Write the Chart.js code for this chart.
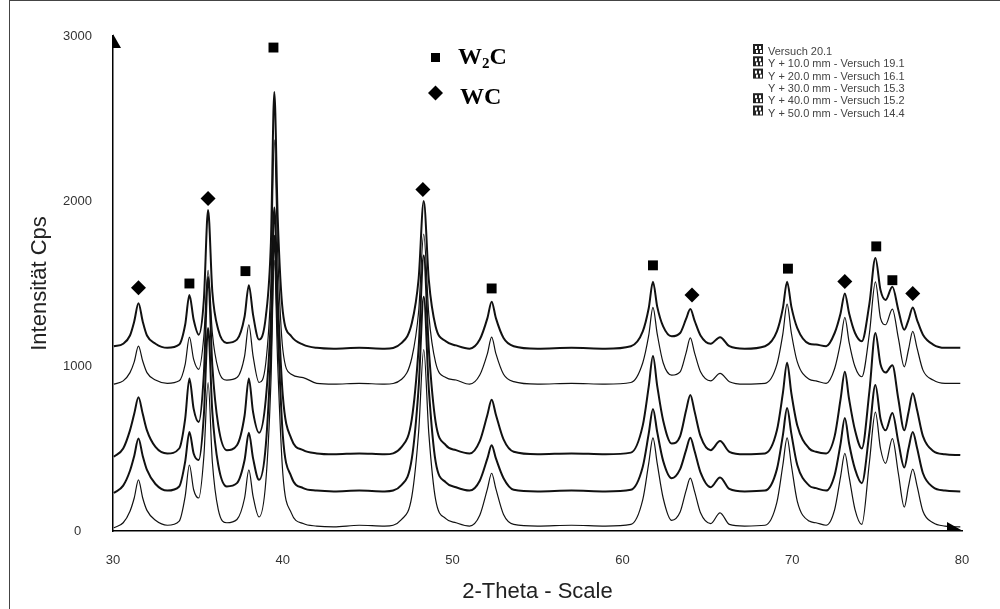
<!DOCTYPE html>
<html>
<head>
<meta charset="utf-8">
<script src="https://cdn.jsdelivr.net/npm/chart.js@4.4.1/dist/chart.umd.min.js"></script>
<style>
  html, body { margin: 0; padding: 0; background: #fff; }
  #wrap { position: relative; width: 1000px; height: 609px; }
  #frame { position: absolute; left: 9px; top: 0; width: 990px; height: 608px;
           border-left: 1px solid #444; border-top: 1px solid #444; pointer-events: none; }
</style>
</head>
<body>
<div id="wrap">
  <canvas id="xrd" width="1000" height="609"></canvas>
  <div id="frame"></div>
</div>
<script>
// 2-theta positions shared by all patterns
const twoTheta = [
  30.05, 30.6, 31.0, 31.25, 31.5, 31.75, 32.0, 32.5, 33.2, 33.9,
  34.25, 34.5, 34.75, 35.05, 35.35, 35.6, 35.85, 36.2, 36.7, 37.3,
  37.75, 38.0, 38.25, 38.6, 39.0, 39.3, 39.5, 39.7, 40.0, 40.5,
  41.2, 42.0, 43.0, 44.5, 46.0, 47.0, 47.6, 48.0, 48.3, 48.6,
  49.0, 49.6, 50.2, 51.0, 51.6, 52.05, 52.3, 52.55, 53.0, 53.6,
  55.0, 57.0, 59.0, 60.5, 61.2, 61.55, 61.8, 62.05, 62.4, 62.9,
  63.4, 63.75, 64.0, 64.25, 64.6, 65.2, 65.75, 66.3, 67.2, 68.4,
  69.1, 69.45, 69.7, 69.95, 70.3, 71.0, 71.4, 72.0, 72.5, 72.85,
  73.1, 73.35, 73.7, 74.1, 74.55, 74.9, 75.2, 75.5, 75.9, 76.25,
  76.6, 76.85, 77.1, 77.35, 77.7, 78.3, 79.0, 79.9
];

// intensities (Cps), already shifted by the Y offset of each run
const versuch201 = [
  20, 50, 120, 200, 310, 200, 125, 65, 35, 60,
  210, 400, 250, 200, 450, 900, 420, 130, 50, 70,
  200, 370, 210, 85, 300, 900, 1640, 1010, 350, 110,
  45, 30, 25, 35, 30, 70, 210, 600, 1100, 590,
  190, 75, 50, 30, 95, 255, 350, 255, 100, 40,
  30, 35, 30, 40, 190, 410, 565, 410, 200, 65,
  115, 245, 320, 240, 110, 45, 110, 40, 30, 35,
  175, 400, 565, 400, 180, 60, 50, 35, 130, 330,
  470, 330, 130, 40, 420, 720, 500, 410, 560, 350,
  145, 270, 375, 275, 120, 50, 30, 25
];
const versuch191 = [
  230, 275, 365, 455, 560, 455, 370, 285, 245, 270,
  420, 600, 470, 430, 700, 1230, 720, 400, 270, 290,
  430, 595, 440, 310, 520, 1100, 1790, 1230, 580, 330,
  260, 245, 240, 245, 240, 280, 440, 870, 1420, 860,
  420, 295, 265, 245, 305, 440, 520, 440, 320, 250,
  240, 245, 240, 250, 390, 590, 740, 600, 425, 320,
  375, 490, 565, 485, 355, 265, 325, 255, 240, 245,
  375, 580, 745, 590, 400, 275, 260, 245, 340, 530,
  685, 530, 375, 290, 600, 885, 680, 610, 715, 540,
  385, 500, 600, 505, 350, 265, 245, 240
];
const versuch161 = [
  450, 500, 610, 710, 810, 710, 610, 510, 470, 500,
  680, 925, 740, 660, 950, 1540, 1000, 640, 490, 520,
  700, 925, 720, 595, 800, 1300, 1960, 1420, 820, 560,
  490, 470, 465, 470, 465, 510, 680, 1110, 1670, 1100,
  660, 520, 490, 470, 545, 705, 795, 705, 555, 480,
  465, 470, 465, 475, 640, 875, 1060, 880, 670, 530,
  575, 730, 825, 725, 575, 490, 545, 480, 465, 470,
  610, 835, 1020, 835, 640, 500, 480, 470, 575, 800,
  965, 800, 610, 500, 850, 1200, 1010, 960, 1005, 800,
  610, 720, 835, 735, 575, 485, 465, 460
];
const versuch153 = [];
const versuch152 = [
  890, 910, 960, 1025, 1120, 1030, 960, 915, 895, 910,
  1010, 1175, 1040, 980, 1180, 1580, 1200, 980, 915, 930,
  1060, 1250, 1060, 900, 1020, 1500, 2370, 1680, 1100, 950,
  930, 895, 890, 895, 890, 920, 1050, 1330, 1800, 1310,
  1020, 930, 915, 890, 945, 1075, 1175, 1075, 950, 905,
  890, 895, 890, 900, 1020, 1185, 1355, 1195, 1020, 945,
  965, 1080, 1170, 1080, 965, 910, 955, 905, 890, 895,
  1010, 1195, 1375, 1200, 1025, 920, 910, 895, 985, 1145,
  1295, 1145, 995, 935, 1200, 1510, 1290, 1250, 1345, 1170,
  995, 1100, 1210, 1110, 975, 915, 895, 895
];
const versuch144 = [
  1120, 1135, 1185, 1270, 1380, 1270, 1185, 1135, 1110, 1130,
  1250, 1430, 1280, 1190, 1400, 1945, 1450, 1220, 1140, 1160,
  1300, 1490, 1310, 1160, 1300, 1750, 2660, 1900, 1330, 1180,
  1130, 1110, 1105, 1110, 1105, 1140, 1260, 1530, 2000, 1520,
  1240, 1150, 1125, 1105, 1160, 1290, 1390, 1290, 1170, 1120,
  1105, 1110, 1105, 1120, 1210, 1350, 1510, 1360, 1240, 1180,
  1200, 1285, 1345, 1275, 1185, 1135, 1175, 1120, 1105, 1120,
  1210, 1350, 1510, 1360, 1230, 1135, 1130, 1120, 1200, 1320,
  1440, 1320, 1200, 1150, 1380, 1655, 1460, 1400, 1480, 1340,
  1220, 1280, 1355, 1280, 1190, 1130, 1110, 1110
];

// phase markers above the reflections
const w2cTheta = [34.5, 37.8, 39.45, 52.3, 61.8, 69.75, 74.95, 75.9];
const w2cLevel = [1500, 1575, 2930, 1470, 1610, 1590, 1725, 1520];
const wcTheta = [31.5, 35.6, 48.25, 64.1, 73.1, 77.1];
const wcLevel = [1475, 2015, 2070, 1430, 1512, 1440];

const xTicks = [30, 40, 50, 60, 70, 80];
const yTicks = [0, 1000, 2000, 3000];

const runs = [
  { label: 'Versuch 20.1', values: versuch201, width: 1.2 },
  { label: 'Y + 10.0 mm - Versuch 19.1', values: versuch191, width: 2 },
  { label: 'Y + 20.0 mm - Versuch 16.1', values: versuch161, width: 2 },
  { label: 'Y + 30.0 mm - Versuch 15.3', values: versuch153, width: 2 },
  { label: 'Y + 40.0 mm - Versuch 15.2', values: versuch152, width: 1.2 },
  { label: 'Y + 50.0 mm - Versuch 14.4', values: versuch144, width: 2 },
];

const toPoints = (xs, ys) => ys.map((y, i) => ({ x: xs[i], y }));

const datasets = runs.map(r => ({
  label: r.label,
  data: toPoints(twoTheta, r.values),
  borderColor: '#111',
  borderWidth: r.width,
  pointRadius: 0,
  cubicInterpolationMode: 'monotone',
  fill: false,
  isRun: true,
}));

datasets.push({
  label: 'W2C',
  data: toPoints(w2cTheta, w2cLevel),
  showLine: false,
  pointStyle: 'rect',
  pointRadius: 7,
  pointBackgroundColor: '#000',
  pointBorderWidth: 0,
});
datasets.push({
  label: 'WC',
  data: toPoints(wcTheta, wcLevel),
  showLine: false,
  pointStyle: 'rectRot',
  pointRadius: 7.5,
  pointBackgroundColor: '#000',
  pointBorderWidth: 0,
});

// arrows, phase key and run key
const overlay = {
  id: 'overlay',
  afterDraw(chart) {
    const { ctx, chartArea: a } = chart;
    ctx.save();
    ctx.fillStyle = '#000';

    ctx.beginPath();
    ctx.moveTo(a.left, a.top - 2);
    ctx.lineTo(a.left + 8, a.top + 12);
    ctx.lineTo(a.left, a.top + 12);
    ctx.closePath();
    ctx.fill();

    ctx.beginPath();
    ctx.moveTo(a.right - 15, a.bottom - 9);
    ctx.lineTo(a.right + 1, a.bottom);
    ctx.lineTo(a.right - 15, a.bottom);
    ctx.closePath();
    ctx.fill();

    // phase key
    ctx.fillRect(431, 53, 9, 9);
    ctx.beginPath();
    ctx.moveTo(435.5, 85.5);
    ctx.lineTo(443, 93);
    ctx.lineTo(435.5, 100.5);
    ctx.lineTo(428, 93);
    ctx.closePath();
    ctx.fill();

    ctx.textBaseline = 'alphabetic';
    ctx.textAlign = 'left';
    ctx.font = 'bold 24px "Liberation Serif", "Times New Roman", serif';
    let x = 458;
    ctx.fillText('W', x, 64);
    x += ctx.measureText('W').width;
    ctx.font = 'bold 15px "Liberation Serif", "Times New Roman", serif';
    ctx.fillText('2', x, 68);
    x += ctx.measureText('2').width;
    ctx.font = 'bold 24px "Liberation Serif", "Times New Roman", serif';
    ctx.fillText('C', x, 64);
    ctx.fillText('WC', 460, 104);

    // run key
    ctx.font = '11px "Liberation Sans", Arial, sans-serif';
    ctx.textBaseline = 'middle';
    const runSets = chart.data.datasets.filter(d => d.isRun);
    runSets.forEach((d, i) => {
      const y = 52 + i * 12.3;
      if (d.data.length) {
        ctx.fillStyle = '#222';
        ctx.fillRect(753, y - 8, 10, 10);
        ctx.fillStyle = '#fff';
        ctx.fillRect(755, y - 6, 2, 3);
        ctx.fillRect(759, y - 6, 2, 3);
        ctx.fillRect(756, y - 2, 2, 3);
        ctx.fillRect(760, y - 2, 2, 3);
      }
      ctx.fillStyle = '#444';
      ctx.fillText(d.label, 768, y);
    });
    ctx.restore();
  }
};

new Chart(document.getElementById('xrd'), {
  type: 'line',
  data: { datasets },
  options: {
    responsive: false,
    animation: false,
    devicePixelRatio: 1,
    layout: { padding: { top: 36, right: 38, left: 0, bottom: 0 } },
    plugins: { legend: { display: false }, tooltip: { enabled: false } },
    scales: {
      x: {
        type: 'linear',
        min: 30,
        max: 80,
        afterFit: s => { s.height = 78; },
        afterBuildTicks: s => { s.ticks = xTicks.map(v => ({ value: v })); },
        grid: { display: false, drawTicks: false },
        border: { display: true, color: '#000', width: 1.5 },
        ticks: {
          padding: 22,
          color: '#333',
          font: { size: 13, family: '"Liberation Sans", Arial, sans-serif' },
          callback: v => String(v),
        },
        title: {
          display: true,
          text: '2-Theta - Scale',
          color: '#222',
          padding: { top: 0, bottom: 4 },
          font: { size: 22, family: '"Liberation Sans", Arial, sans-serif' },
        },
      },
      y: {
        type: 'linear',
        min: 0,
        max: 3000,
        afterFit: s => { s.width = 113; },
        afterBuildTicks: s => { s.ticks = yTicks.map(v => ({ value: v })); },
        grid: { display: false, drawTicks: false },
        border: { display: true, color: '#000', width: 1.5 },
        ticks: {
          padding: 21,
          crossAlign: 'center',
          color: '#333',
          font: { size: 13, family: '"Liberation Sans", Arial, sans-serif' },
          callback: v => String(v),
        },
        title: {
          display: true,
          text: 'Intensität Cps',
          color: '#222',
          padding: { top: 27, bottom: 0 },
          font: { size: 22, family: '"Liberation Sans", Arial, sans-serif' },
        },
      },
    },
  },
  plugins: [overlay],
});
</script>
</body>
</html>
